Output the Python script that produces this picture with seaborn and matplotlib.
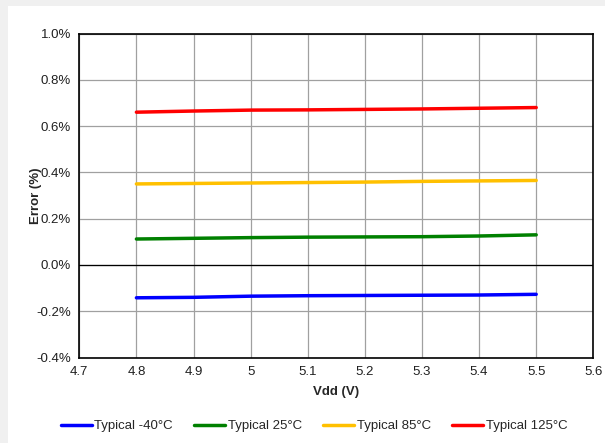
import pandas as pd
import matplotlib
matplotlib.use('Agg')
import matplotlib.pyplot as plt
import seaborn as sns
from matplotlib.patches import Rectangle
from matplotlib.ticker import FuncFormatter

# Data (error in %)
vdd = [4.8, 4.9, 5.0, 5.1, 5.2, 5.3, 5.4, 5.5]
err_m40 = [-0.142, -0.140, -0.135, -0.133, -0.132, -0.131, -0.130, -0.127]
err_25 = [0.112, 0.115, 0.118, 0.120, 0.121, 0.122, 0.125, 0.130]
err_85 = [0.350, 0.352, 0.354, 0.356, 0.358, 0.361, 0.363, 0.365]
err_125 = [0.660, 0.665, 0.669, 0.670, 0.672, 0.674, 0.677, 0.680]
labels = ['Typical -40°C', 'Typical 25°C', 'Typical 85°C', 'Typical 125°C']
colors = ['#0000FF', '#008000', '#FFC000', '#FF0000']

rows = []
for lab, ys in zip(labels, [err_m40, err_25, err_85, err_125]):
    for v, e in zip(vdd, ys):
        rows.append({'Vdd': v, 'Error': e, 'Series': lab})
df = pd.DataFrame(rows)

sns.set_style('white')
plt.rcParams['font.family'] = ['Liberation Sans', 'DejaVu Sans']

fig = plt.figure(figsize=(6.05, 4.43), dpi=100)
fig.patch.set_facecolor('#f0f0f0')
fig.patches.append(Rectangle((8 / 605, 0), 1, 1 - 6 / 443, transform=fig.transFigure,
                             facecolor='white', edgecolor='none', zorder=-1))

ax = fig.add_axes([79.3 / 605, 1 - 357.5 / 443, (593.3 - 79.3) / 605, (357.5 - 33.5) / 443])
sns.lineplot(data=df, x='Vdd', y='Error', hue='Series', palette=colors,
             hue_order=labels, linewidth=2.5, ax=ax, legend=True)

ax.set_xlim(4.7, 5.6)
ax.set_ylim(-0.4, 1.0)
ax.set_xticks([4.7, 4.8, 4.9, 5.0, 5.1, 5.2, 5.3, 5.4, 5.5, 5.6])
ax.set_xticklabels(['4.7', '4.8', '4.9', '5', '5.1', '5.2', '5.3', '5.4', '5.5', '5.6'])
ax.set_yticks([-0.4, -0.2, 0.0, 0.2, 0.4, 0.6, 0.8, 1.0])
ax.yaxis.set_major_formatter(FuncFormatter(lambda v, p: f'{v:.1f}%'))
ax.grid(True, color='#a0a0a0', linewidth=0.9)
ax.set_axisbelow(True)
ax.axhline(0, color='black', linewidth=0.9, zorder=1.5)
for s in ax.spines.values():
    s.set_color('black')
    s.set_linewidth(1.2)
ax.tick_params(length=0, labelsize=9.5, colors='#202020', pad=6)

ax.set_xlabel('Vdd (V)', fontsize=9.5, fontweight='bold', labelpad=6)
ax.set_ylabel('Error (%)', fontsize=9.5, fontweight='bold', labelpad=-4)

handles, labs = ax.get_legend_handles_labels()
ax.get_legend().remove()
fig.legend(handles, labs, loc='center', bbox_to_anchor=(0.519, 1 - 426 / 443), ncol=4,
           frameon=False, fontsize=9.5, handlelength=2.35, handletextpad=0.2,
           columnspacing=1.6)

plt.savefig('out.png', dpi=100, facecolor=fig.get_facecolor())
